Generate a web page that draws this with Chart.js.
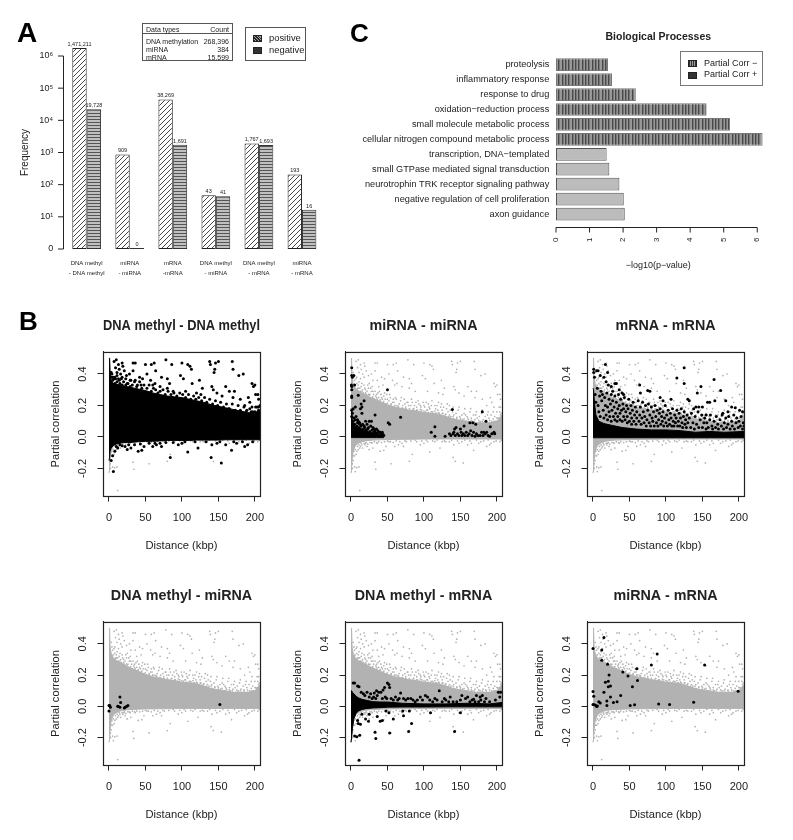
<!DOCTYPE html>
<html>
<head>
<meta charset="utf-8">
<title>Partial correlation figure</title>
<script src="https://cdn.jsdelivr.net/npm/chart.js@4"></script>
<style>
    html, body { margin: 0; padding: 0; background: #fff; overflow: hidden; }
    #page { position: relative; width: 793px; height: 840px; overflow: hidden; filter: blur(0.35px); font-family: "Liberation Sans", Arial, sans-serif; color: #222; }
    canvas { position: absolute; }
    .t { position: absolute; white-space: nowrap; line-height: 1; transform: translateY(-50%); }
    .letter { font-weight: bold; color: #000; }
    .box { position: absolute; box-sizing: border-box; }
    .swatch { position: absolute; }
</style>
</head>
<body>
<div id="page">
    <div class="t letter" style="left:17px;top:33px;font-size:28px">A</div>
    <div class="t letter" style="left:19px;top:321px;font-size:26px">B</div>
    <div class="t letter" style="left:350px;top:33px;font-size:26px">C</div>

    <canvas id="freqChart" width="315" height="270" style="left:15px;top:20px"></canvas>
    <canvas id="goChart" width="448" height="255" style="left:345px;top:25px"></canvas>

    <!-- data types table -->
    <div class="box" style="left:142px;top:23px;width:91px;height:38px;border:1px solid #555"></div>
    <div class="box" style="left:142px;top:33px;width:91px;height:1px;background:#555"></div>
    <div class="t" style="left:146px;top:29px;font-size:7px">Data types</div>
    <div class="t" style="right:564px;top:29px;font-size:7px">Count</div>
    <div class="t" style="left:146px;top:41px;font-size:7px">DNA methylation</div>
    <div class="t" style="right:564px;top:41px;font-size:7px">268,396</div>
    <div class="t" style="left:146px;top:49px;font-size:7px">miRNA</div>
    <div class="t" style="right:564px;top:49px;font-size:7px">384</div>
    <div class="t" style="left:146px;top:57px;font-size:7px">mRNA</div>
    <div class="t" style="right:564px;top:57px;font-size:7px">15,599</div>

    <!-- legend panel A -->
    <div class="box" style="left:245px;top:27px;width:61px;height:34px;border:1px solid #555"></div>
    <div class="swatch" style="left:253px;top:35px;width:7px;height:5px;border:.5px solid #222;background:repeating-linear-gradient(45deg,#222 0 1px,#aaa 1px 2px)"></div>
    <div class="swatch" style="left:253px;top:47px;width:7px;height:5px;border:.5px solid #222;background:#333"></div>
    <div class="t" style="left:269px;top:38px;font-size:9.4px">positive</div>
    <div class="t" style="left:269px;top:50px;font-size:9.4px">negative</div>

    <!-- legend panel C -->
    <div class="box" style="left:680px;top:51px;width:83px;height:35px;border:1.5px solid #777"></div>
    <div class="swatch" style="left:688px;top:60px;width:7px;height:5px;border:.5px solid #222;background:repeating-linear-gradient(90deg,#333 0 1px,#999 1px 2px)"></div>
    <div class="swatch" style="left:688px;top:72px;width:7px;height:5px;border:.5px solid #222;background:#333"></div>
    <div class="t" style="left:704px;top:63px;font-size:9px">Partial Corr &minus;</div>
    <div class="t" style="left:704px;top:74px;font-size:9px">Partial Corr +</div>
</div>

<script>
/**
 * Panel A: edge counts per data type pair (bar heights)
 */
const pairLabels = [
    ['DNA methyl', '- DNA methyl'], ['miRNA', '- miRNA'], ['mRNA', '-mRNA'],
    ['DNA methyl', '- miRNA'], ['DNA methyl', '- mRNA'], ['miRNA', '- mRNA']
];
const positiveHeights = [1780000, 870, 44500, 47, 1900, 208];
const negativeHeights = [22000, 1.07, 1740, 44, 1720, 16.5];
const positiveCounts = ['1,471,211', '909', '38,269', '43', '1,767', '193'];
const negativeCounts = ['19,728', '0', '1,691', '41', '1,693', '16'];
const freqTicks = [1, 10, 100, 1000, 10000, 100000, 1000000];
const freqTickLabels = ['0', '10¹', '10²', '10³', '10⁴', '10⁵', '10⁶'];

/**
 * Panel C: GO terms, top to bottom
 */
const goTerms = [
    'proteolysis', 'inflammatory response', 'response to drug', 'oxidation−reduction process',
    'small molecule metabolic process', 'cellular nitrogen compound metabolic process',
    'transcription, DNA−templated', 'small GTPase mediated signal transduction',
    'neurotrophin TRK receptor signaling pathway', 'negative regulation of cell proliferation', 'axon guidance'
];
const goValues = [1.55, 1.67, 2.38, 4.49, 5.19, 6.16, 1.51, 1.59, 1.89, 2.02, 2.05];
const goPositive = [true, true, true, true, true, true, false, false, false, false, false];
const goTicks = [0, 1, 2, 3, 4, 5, 6];

/**
 * Panel B: tick values, shared gray cloud (edges of the solid part + loose points)
 */
const distanceTicks = [0, 50, 100, 150, 200];
const corrTicks = [-0.2, 0, 0.2, 0.4];

const cloudX = [0, .8, 1.5, 3, 6, 10, 15, 20, 25, 30, 40, 50, 60, 70, 80, 90, 100, 110, 120, 130, 140, 150, 160, 170, 180, 190, 200, 207];
const cloudUpper = [.5, .5, .38, .34, .31, .295, .28, .27, .255, .245, .225, .205, .19, .18, .17, .165, .155, .15, .145, .13, .115, .105, .1, .09, .09, .09, .1, .14];
const cloudLower = [-.23, -.21, -.15, -.09, -.055, -.04, -.03, -.025, -.022, -.02, -.018, -.016, -.016, -.015, -.015, -.014, -.013, -.013, -.013, -.013, -.013, -.013, -.013, -.013, -.013, -.013, -.013, -.013];

const cloudTop = [
    [7,.48],[10,.49],[13,.46],[18,.47],[9,.44],[14,.43],[19,.45],[11,.41],[16,.40],[21,.42],[8,.38],[13,.37],[18,.38],[24,.39],[28,.40],
    [33,.47],[36,.47],[33,.42],[30,.36],[36,.36],[42,.38],[46,.37],[25,.34],[29,.32],[38,.32],[44,.33],[50,.46],[52,.40],[58,.46],[62,.47],
    [64,.42],[57,.36],[60,.33],[63,.34],[70,.32],[72,.38],[78,.49],[80,.37],[86,.46],[80,.31],[83,.34],[88,.29],[98,.39],[100,.47],[102,.37],
    [108,.46],[111,.45],[113,.43],[105,.29],[114,.34],[120,.28],[124,.36],[128,.31],[126,.27],[138,.48],[139,.46],[146,.47],[150,.48],[144,.41],
    [145,.43],[141,.32],[143,.30],[148,.28],[155,.26],[160,.32],[165,.29],[169,.48],[170,.43],[172,.29],[170,.25],[178,.39],[184,.40],[180,.24],
    [191,.25],[196,.34],[198,.32],[200,.33],[201,.27],[204,.27],[193,.22],[205,.24],[186,.20]
];
const cloudFringe = [
    [5,.36],[8,.34],[10,.33],[12,.31],[14,.32],[16,.30],[18,.33],[20,.30],[22,.29],[24,.31],[26,.27],[28,.29],[31,.27],[33,.29],[34,.26],[37,.28],
    [38,.25],[41,.27],[43,.24],[45,.26],[47,.24],[49,.27],[52,.23],[54,.25],[55,.21],[58,.24],[59,.22],[62,.24],[63,.20],[66,.21],[68,.23],[71,.20],
    [73,.24],[75,.19],[77,.22],[78,.22],[82,.20],[84,.22],[86,.18],[89,.22],[90,.19],[93,.21],[95,.20],[97,.17],[99,.22],[101,.19],[104,.17],[106,.21],
    [108,.18],[110,.20],[112,.16],[116,.18],[118,.20],[121,.15],[123,.19],[125,.17],[129,.14],[131,.18],[133,.16],[135,.20],[137,.13],[139,.16],[141,.14],
    [145,.12],[147,.17],[149,.13],[153,.11],[155,.15],[157,.14],[161,.11],[163,.16],[165,.12],[169,.10],[171,.14],[173,.12],[177,.10],[179,.15],[181,.11],
    [185,.10],[187,.14],[189,.12],[193,.10],[195,.16],[197,.13],[201,.12],[203,.19],[204,.16],[206,.15],
    [3,.41],[4,.38],[6,.33],[7,.37],[9,.31],[11,.35],[13,.29],[15,.34],[17,.28],[19,.31],[21,.27],[23,.33],[24,.27],[27,.31],[29,.25],[30,.29],[32,.24],[35,.27],
    [36,.24],[39,.29],[40,.23],[42,.25],[44,.22],[46,.28],[48,.21],[50,.24],[51,.2],[53,.27],[56,.19],[57,.22],[60,.2],[61,.25],[65,.19],[67,.18],[69,.25],[72,.18],
    [74,.21],[76,.17],[79,.2],[81,.17],[83,.24],[85,.16],[87,.2],[91,.17],[92,.23],[94,.16],[96,.19],[98,.15],[100,.2],[102,.16],[103,.22],[105,.15],[107,.19],[109,.15],
    [111,.23],[113,.15],[115,.2],[117,.15],[119,.17],[120,.22],[122,.14],[124,.21],[126,.15],[127,.19],[130,.13],[132,.21],[134,.13],[136,.17],[138,.11],[140,.19],
    [142,.11],[144,.15],[146,.1],[148,.19],[150,.11],[152,.14],[154,.09],[156,.18],[158,.1],[159,.13],[162,.09],[164,.18],[166,.1],[168,.14],[170,.09],[172,.16],
    [174,.09],[176,.13],[178,.09],[180,.17],[182,.09],[184,.13],[186,.09],[188,.16],[190,.09],[192,.14],[194,.09],[196,.19],[198,.1],[200,.16],[202,.1],[205,.19],[207,.13]
];
// points hugging the top of the solid part, they break up its outline
const cloudEdge = [
    [8,.3],[12,.285],[17,.27],[22,.26],[27,.25],[32,.24],[37,.225],[43,.215],[47,.205],[53,.195],[57,.185],[63,.18],[67,.175],[72,.17],[76,.175],[82,.16],[87,.165],
    [92,.155],[96,.16],[102,.15],[106,.155],[112,.145],[116,.15],[121,.135],[126,.135],[131,.125],[136,.12],[141,.115],[146,.105],[151,.1],[156,.095],[161,.095],
    [166,.09],[171,.085],[176,.09],[181,.085],[186,.09],[191,.085],[196,.1],[199,.1],[203,.12],[205,.14],[10,.31],[15,.29],[20,.28],[25,.265],[30,.255],[35,.25],
    [40,.235],[45,.225],[50,.215],[55,.205],[60,.2],[65,.195],[70,.185],[75,.18],[80,.18],[85,.175],[90,.17],[95,.175],[100,.165],[105,.17],[110,.16],[115,.165],
    [120,.155],[125,.15],[130,.145],[135,.14],[140,.13],[145,.125],[150,.12],[155,.115],[160,.12],[165,.105],[170,.11],[175,.105],[180,.1],[185,.105],[190,.105],[195,.115],[200,.12]
];
const cloudBottom = [
    [3,-.15],[5,-.12],[8,-.09],[12,-.07],[2,-.2],[6,-.22],[12,-.34],[11,-.19],[5,-.19],[8,-.195],[33,-.16],[34,-.205],[30,-.07],[22,-.06],[25,-.08],[15,-.05],
    [40,-.09],[45,-.085],[48,-.06],[55,-.17],[60,-.06],[65,-.05],[72,-.06],[80,-.155],[84,-.11],[70,-.04],[95,-.05],[108,-.095],[100,-.04],[115,-.03],
    [122,-.07],[130,-.03],[140,-.13],[143,-.155],[141,-.05],[148,-.04],[154,-.165],[160,-.05],[165,-.04],[168,-.085],[175,-.04],[186,-.06],[190,-.05],
    [192,-.04],[204,-.03],[20,-.04],[28,-.035],[36,-.04],[52,-.03],[58,-.035],[76,-.03],[90,-.03],[105,-.03],[125,-.03],[135,-.03],[152,-.03],[178,-.03],[196,-.03],
    [2,-.17],[3,-.12],[4,-.09],[6,-.08],[7,-.11],[9,-.06],[10,-.08],[11,-.05],[13,-.06],[14,-.04],[16,-.07],[18,-.04],[19,-.05],[21,-.035],[23,-.045],[26,-.035],
    [29,-.04],[32,-.03],[35,-.035],[38,-.03],[42,-.035],[46,-.03],[50,-.025],[54,-.03],[62,-.025],[67,-.03],[74,-.025],[82,-.025],[88,-.02],[97,-.025],[103,-.02],
    [112,-.025],[118,-.02],[128,-.025],[138,-.02],[146,-.025],[156,-.02],[163,-.025],[172,-.02],[182,-.025],[188,-.02],[199,-.025],[206,-.02]
];

// DNA methyl - DNA methyl: nearly the whole cloud is black
const methylUpper = [.5, .5, .42, .36, .34, .335, .33, .325, .32, .315, .305, .295, .28, .27, .26, .255, .25, .24, .23, .22, .205, .195, .185, .175, .165, .155, .15, .17];
const methylLower = [-.15, -.13, -.09, -.07, -.055, -.045, -.04, -.035, -.035, -.035, -.03, -.028, -.028, -.025, -.022, -.022, -.022, -.022, -.02, -.02, -.02, -.02, -.018, -.018, -.018, -.018, -.018, -.018];
const methylEdge = [
    [4,.4],[6,.38],[9,.37],[11,.39],[14,.36],[17,.37],[20,.35],[23,.37],[26,.34],[29,.36],[32,.33],[35,.35],[39,.33],[42,.35],[45,.31],[48,.33],[52,.31],[55,.33],
    [58,.29],[61,.31],[64,.3],[67,.28],[70,.29],[74,.3],[77,.27],[81,.29],[85,.27],[89,.28],[93,.26],[97,.28],[101,.27],[105,.25],[109,.27],[112,.24],[116,.26],
    [119,.24],[123,.25],[127,.23],[131,.25],[134,.22],[138,.24],[142,.21],[146,.23],[149,.2],[153,.22],[157,.19],[161,.21],[165,.18],[169,.21],[173,.17],[177,.2],
    [181,.16],[185,.19],[189,.17],[193,.18],[197,.16],[201,.19],[205,.17],[207,.2]
];
const methylBottom = [
    [3,-.15],[5,-.12],[8,-.09],[12,-.07],[6,-.22],[30,-.07],[22,-.06],[25,-.08],[15,-.05],[40,-.09],[45,-.085],[48,-.06],[60,-.06],[65,-.05],[72,-.06],
    [84,-.13],[70,-.04],[95,-.05],[108,-.095],[100,-.04],[122,-.07],[140,-.13],[141,-.05],[154,-.165],[148,-.04],[160,-.05],[168,-.085],[175,-.04],[186,-.06],[190,-.05],
    [10,-.06],[18,-.055],[27,-.05],[35,-.05],[43,-.045],[55,-.04],[63,-.04],[78,-.035],[88,-.035],[104,-.03],[118,-.03],[133,-.03],[152,-.03],[171,-.03],[183,-.03],[197,-.03]
];

// miRNA - miRNA
const mirnaBandX = [0, .8, 2, 5, 10, 15, 20, 25, 30, 35, 40, 45];
const mirnaBandUpper = [.18, .17, .1, .07, .055, .045, .04, .03, .025, .02, .015, .01];
const mirnaBandLower = [-.004, -.004, -.004, -.004, -.004, -.004, -.004, -.004, -.004, -.004, -.004, -.004];
const mirnaPoints = [
    [1,.44],[1,.39],[2,.38],[4,.39],[.5,.33],[1,.32],[5,.33],[1,.3],[1,.26],[1,.25],[10,.265],[14,.21],[18,.23],[15,.19],[13,.18],[6,.19],[3,.18],[1,.17],
    [2,.15],[1,.13],[4,.12],[15,.15],[33,.14],[25,.1],[28,.1],[20,.1],[10,.1],[50,.3],[51,.09],[53,.08],[68,.125],[35,.05],[110,.03],[115,.065],[115,.005],
    [129,.005],[139,.175],[142,.05],[144,.06],[150,.05],[155,.07],[163,.09],[167,.09],[171,.08],[180,.16],[185,.1],[191,.065],[196,.03],[197,.02],
    [7,.13],[9,.11],[12,.09],[16,.08],[18,.07],[22,.08],[24,.06],[27,.07],[30,.06],[32,.05],[37,.04],[40,.03],[43,.03],[45,.01],[36,.02],
    [3,.1],[5,.08],[6,.11],[8,.07],[9,.09],[11,.06],[12,.08],[13,.05],[14,.07],[17,.05],[19,.06],[21,.045],[23,.05],[26,.035],[29,.045],[31,.03],[33,.04],[34,.025],
    [38,.03],[41,.015],[42,.02],[44,.015],
    [135,.02],[137,.01],[140,.02],[141,.03],[143,.01],[146,.02],[148,.01],[151,.03],[152,.01],[154,.02],[156,.01],[158,.03],[160,.01],[162,.02],[164,.04],
    [166,.01],[168,.03],[170,.005],[172,.02],[174,.01],[177,.01],[179,.03],[181,.01],[182,.03],[184,.02],[186,.03],[188,.01],[190,.005],[193,.02]
];

// mRNA - mRNA
const mrnaBandX = [0, .8, 2, 4, 8, 15, 25, 40, 60, 80, 100, 120, 140, 160, 180, 207];
const mrnaBandUpper = [.31, .3, .22, .14, .1, .085, .075, .06, .05, .045, .045, .04, .03, .035, .03, .035];
const mrnaBandLower = [-.005, -.005, -.005, -.005, -.005, -.005, -.005, -.005, -.005, -.005, -.005, -.005, -.005, -.005, -.005, -.005];
const mrnaPoints = [
    [1,.43],[1,.41],[2,.38],[5,.42],[7,.42],[10,.39],[17,.46],[20,.41],[15,.38],[18,.35],[21,.33],[25,.32],[30,.34],[32,.34],[27,.29],[36,.3],[40,.28],[42,.27],
    [64,.33],[65,.28],[75,.295],[78,.29],[92,.25],[96,.23],[107,.24],[115,.375],[125,.44],[125,.34],[130,.24],[132,.23],[138,.18],[143,.28],[148,.32],[141,.19],
    [145,.19],[150,.19],[155,.14],[157,.22],[160,.22],[166,.365],[167,.23],[175,.295],[182,.23],[178,.15],[185,.16],[190,.19],[195,.185],[201,.17],[205,.16],
    [3,.27],[6,.31],[4,.22],[9,.26],[7,.2],[11,.29],[8,.16],[12,.23],[10,.13],[13,.27],[14,.17],[15,.12],[16,.25],[17,.2],[18,.14],[19,.28],[20,.19],[20,.11],
    [22,.24],[22,.16],[23,.13],[24,.21],[25,.27],[25,.1],[26,.17],[27,.23],[28,.13],[29,.19],[30,.26],[30,.11],[31,.15],[32,.22],[33,.1],[34,.18],[34,.13],[35,.27],
    [36,.2],[37,.11],[37,.15],[38,.24],[39,.17],[40,.1],[41,.21],[42,.13],[42,.18],[43,.25],[44,.11],[45,.16],[46,.2],[47,.09],[47,.13],[48,.18],[49,.24],[50,.1],
    [51,.15],[52,.2],[53,.08],[53,.12],[54,.17],[55,.22],[56,.1],[57,.14],[58,.19],[59,.08],[60,.12],[60,.16],
    [62,.23],[63,.1],[64,.14],[65,.19],[66,.08],[67,.12],[68,.22],[69,.16],[70,.09],[71,.13],[72,.2],[73,.07],[74,.11],[75,.17],[76,.21],[77,.09],[78,.14],[79,.07],
    [80,.19],[81,.12],[82,.1],[83,.16],[84,.07],[85,.2],[86,.13],[87,.09],[88,.17],[89,.07],[90,.11],[91,.15],[92,.18],[93,.08],[94,.13],[95,.1],[96,.16],[97,.07],
    [98,.12],[99,.2],[100,.09],[101,.14],[102,.07],[103,.17],[104,.11],[105,.08],[106,.15],[107,.12],[108,.07],[109,.18],[110,.1],[111,.07],[112,.14],[113,.09],
    [114,.12],[115,.17],[116,.07],[117,.1],[118,.15],[119,.07],[120,.12],[121,.18],[122,.09],[123,.06],[124,.13],[125,.16],[126,.08],[127,.11],[128,.06],[129,.14],[130,.09],
    [132,.12],[134,.06],[135,.15],[137,.09],[139,.05],[140,.13],[142,.08],[144,.16],[145,.06],[147,.11],[149,.14],[150,.06],[152,.09],[153,.12],[155,.05],[156,.09],
    [158,.06],[160,.11],[161,.14],[163,.07],[164,.05],[166,.1],[168,.06],[169,.13],[171,.08],[172,.05],[174,.11],[176,.07],[177,.14],[179,.05],[180,.09],[182,.12],
    [183,.06],[185,.08],[186,.13],[188,.05],[190,.1],[191,.07],[193,.14],[194,.05],[196,.09],[197,.12],[199,.06],[200,.1],[202,.07],[203,.13],[205,.05],[206,.09],[207,.07]
];

// DNA methyl - miRNA
const methylMirnaPoints = [[0,.005],[1,.005],[2,-.005],[0,-.03],[13,0],[15,.06],[16,.025],[15,-.005],[12,.001],[21,-.01],[22,-.005],[24,0],[26,.005],[152,.012]];

// DNA methyl - mRNA
const methylMrnaBandX = [0, .8, 2, 4, 7, 10, 15, 20, 30, 40, 50, 70, 100, 130, 160, 190, 207];
const methylMrnaBandUpper = [.1, .1, .09, .08, .065, .055, .045, .04, .03, .028, .028, .02, .016, .016, .02, .016, .025];
const methylMrnaBandLower = [-.23, -.2, -.14, -.08, -.045, -.03, -.02, -.015, -.01, -.008, -.005, -.004, -.004, -.003, -.003, -.003, -.003];
const methylMrnaPoints = [
    [11,-.345],[33,-.165],[34,-.205],[53,-.17],[79,-.16],[83,-.11],[142,-.16],[150,-.04],[109,-.04],[58,-.08],[72,-.06],[71,-.03],[40,-.095],[36,-.065],[43,-.09],
    [25,-.05],[24,-.095],[20,-.08],[12,-.185],[5,-.19],[8,-.195],[10,-.11],[13,-.115],[9,-.09],[15,-.05],[80,-.03],[52,-.04],[48,-.03],
    [3,.15],[5,.15],[9,.13],[11,.125],[50,.15],[52,.14],[53,.12],[46,.12],[44,.105],[41,.09],[35,.1],[38,.09],[32,.085],[36,.07],[121,.1],[102,.07],[105,.06],[68,.085],
    [82,.05],[95,.06],[115,.05],[130,.04],[136,.06],[152,.07],[157,.05],[160,.06],[172,.07],[177,.06],[180,.07],[185,.05],[205,.09],[202,.09],[204,.06],[168,.045],[178,.04],[163,.03],
    [14,.09],[17,.08],[19,.07],[22,.09],[25,.06],[27,.08],[29,.05],[31,.06],[34,.05],[43,.05],[47,.06],[49,.05],[55,.05],[58,.04],[61,.06],[64,.04],[66,.05],[72,.05],[75,.04],
    [78,.05],[85,.04],[88,.03],[91,.04],[98,.04],[108,.04],[112,.03],[118,.04],[125,.03],[128,.05],[134,.03],[140,.03],[145,.03],[150,.04],[166,.04],[170,.03],[175,.03],[183,.03],[190,.03],[198,.04]
];

// miRNA - mRNA
const mirnaMrnaPoints = [
    [0,.37],[15,.44],[12,.36],[12,.295],[20,.27],[41,.22],[48,.195],[60,.24],[61,.165],[54,.125],[38,.07],[33,.03],[28,.025],[24,.06],[24,.13],[22,.2],[21,.16],[17,.155],
    [15,.09],[21,.125],[19,.035],[19,.005],[51,.005],[57,.01],[80,.265],[88,.335],[90,.015],[105,.012],[138,.027],[153,.265],[199,.097],[0,.095],[1,.065],[0,.012],[2,.01],
    [4,.005],[5,0],[8,.03],[10,.022],[6,.003]
];

const INK = '#222';
const TEXT_FONT = '"Liberation Sans", Arial, sans-serif';
const GRAY = '#b2b2b2';

document.addEventListener('DOMContentLoaded', function() {
    Chart.defaults.font.family = TEXT_FONT;
    Chart.defaults.color = INK;
    Chart.defaults.animation = false;
    Chart.defaults.events = [];

    initFrequencyChart();
    initProcessChart();

    initScatter('DNA methyl - DNA methyl', 103, 352, 144, [
        band(cloudX, methylUpper, methylLower, '#000'),
        blackPoints(cloudTop.concat(cloudFringe, methylEdge, methylBottom))
    ]);
    initScatter('miRNA - miRNA', 345, 352, 144, [band(mirnaBandX, mirnaBandUpper, mirnaBandLower, '#000'), blackPoints(mirnaPoints)]);
    initScatter('mRNA - mRNA', 587, 352, 144, [band(mrnaBandX, mrnaBandUpper, mrnaBandLower, '#000'), blackPoints(mrnaPoints)]);
    initScatter('DNA methyl - miRNA', 103, 622, 143, [[], blackPoints(methylMirnaPoints)]);
    initScatter('DNA methyl - mRNA', 345, 622, 143, [band(methylMrnaBandX, methylMrnaBandUpper, methylMrnaBandLower, '#000'), blackPoints(methylMrnaPoints)]);
    initScatter('miRNA - mRNA', 587, 622, 143, [[], blackPoints(mirnaMrnaPoints)]);
});

/**
 * Hatch fills
 */
function makePattern(width, height, draw) {
    const tile = document.createElement('canvas');
    tile.width = width;
    tile.height = height;
    draw(tile.getContext('2d'));
    return tile.getContext('2d').createPattern(tile, 'repeat');
}

function diagonalHatch() {
    return makePattern(5, 5, ctx => {
        ctx.fillStyle = '#fff';
        ctx.fillRect(0, 0, 5, 5);
        ctx.strokeStyle = '#333';
        ctx.lineWidth = 0.9;
        [[-1, 1, 1, -1], [0, 5, 5, 0], [4, 6, 6, 4]].forEach(l => {
            ctx.beginPath();
            ctx.moveTo(l[0], l[1]);
            ctx.lineTo(l[2], l[3]);
            ctx.stroke();
        });
    });
}

function horizontalHatch() {
    return makePattern(4, 3, ctx => {
        ctx.fillStyle = '#c0c0c0';
        ctx.fillRect(0, 0, 4, 3);
        ctx.fillStyle = '#555';
        ctx.fillRect(0, 0, 4, 1);
    });
}

function verticalHatch() {
    return makePattern(10, 4, ctx => {
        ctx.fillStyle = '#989898';
        ctx.fillRect(0, 0, 10, 4);
        ctx.fillStyle = '#484848';
        [0, 3, 7].forEach(x => ctx.fillRect(x, 0, 1.4, 4));
    });
}

/**
 * R style axis line: only between the first and last tick, pushed away from the plot
 */
function offsetAxis(axisId, offset, length) {
    return {
        id: 'offsetAxis',
        afterDraw(chart) {
            const scale = chart.scales[axisId];
            const ctx = chart.ctx;
            const pixels = scale.ticks.map(t => scale.getPixelForValue(t.value));
            ctx.save();
            ctx.strokeStyle = INK;
            ctx.lineWidth = 1;
            ctx.beginPath();
            if (scale.isHorizontal()) {
                const y = Math.round(chart.chartArea.bottom + offset) + 0.5;
                ctx.moveTo(pixels[0], y);
                ctx.lineTo(pixels[pixels.length - 1], y);
                pixels.forEach(p => { ctx.moveTo(p, y); ctx.lineTo(p, y + length); });
            } else {
                const x = Math.round(chart.chartArea.left - offset) + 0.5;
                ctx.moveTo(x, pixels[0]);
                ctx.lineTo(x, pixels[pixels.length - 1]);
                pixels.forEach(p => { ctx.moveTo(x, p); ctx.lineTo(x - length, p); });
            }
            ctx.stroke();
            ctx.restore();
        }
    };
}

const countLabels = {
    id: 'countLabels',
    afterDatasetsDraw(chart) {
        const ctx = chart.ctx;
        ctx.save();
        ctx.font = '5.5px ' + TEXT_FONT;
        ctx.fillStyle = INK;
        ctx.textAlign = 'center';
        ctx.textBaseline = 'bottom';
        [positiveCounts, negativeCounts].forEach((counts, d) => {
            chart.getDatasetMeta(d).data.forEach((bar, i) => ctx.fillText(counts[i], bar.x, bar.y - 1));
        });
        ctx.restore();
    }
};

// Plot box and the rotated tick labels Chart.js can't do on a y axis
const plotFrame = {
    id: 'plotFrame',
    afterDraw(chart) {
        const ctx = chart.ctx;
        const area = chart.chartArea;
        const y = chart.scales.y;
        ctx.save();
        ctx.strokeStyle = INK;
        ctx.lineWidth = 1.2;
        ctx.strokeRect(area.left + 0.5, area.top + 0.5, area.right - area.left, area.bottom - area.top);
        ctx.font = '11px ' + TEXT_FONT;
        ctx.fillStyle = INK;
        ctx.textAlign = 'center';
        ctx.textBaseline = 'middle';
        y.ticks.forEach(t => {
            ctx.save();
            ctx.translate(area.left - 20, y.getPixelForValue(t.value));
            ctx.rotate(-Math.PI / 2);
            ctx.fillText(t.value.toFixed(1), 0, 0);
            ctx.restore();
        });
        ctx.restore();
    }
};

/**
 * Panel A
 */
function initFrequencyChart() {
    new Chart(document.getElementById('freqChart'), {
        type: 'bar',
        data: {
            labels: pairLabels,
            datasets: [
                { label: 'positive', data: positiveHeights, backgroundColor: diagonalHatch(), borderColor: INK, borderWidth: 1, borderSkipped: false, clip: false },
                { label: 'negative', data: negativeHeights, backgroundColor: horizontalHatch(), borderColor: '#333', borderWidth: 1, borderSkipped: false, clip: false }
            ]
        },
        options: {
            responsive: false,
            layout: { padding: { top: 36, right: 6.5 } },
            datasets: { bar: { barPercentage: 1, categoryPercentage: 0.668 } },
            plugins: { legend: { display: false }, tooltip: { enabled: false } },
            scales: {
                x: {
                    grid: { display: false, drawTicks: false },
                    border: { display: false },
                    ticks: { font: { size: 6, lineHeight: 1.65 }, padding: 9, maxRotation: 0, autoSkip: false },
                    afterFit: s => { s.height = 41; }
                },
                y: {
                    type: 'logarithmic',
                    min: 1,
                    max: 1000000,
                    grid: { display: false, drawTicks: false },
                    border: { display: false },
                    afterBuildTicks: s => { s.ticks = freqTicks.map(v => ({ value: v })); },
                    ticks: { font: { size: 9 }, padding: 12, autoSkip: false, callback: (v, i) => freqTickLabels[i] },
                    title: { display: true, text: 'Frequency', font: { size: 10 }, padding: { top: 4, bottom: 0 } },
                    afterFit: s => { s.width = 50.15; }
                }
            }
        },
        plugins: [offsetAxis('y', 2.5, 5.5), countLabels]
    });
}

/**
 * Panel C
 */
function initProcessChart() {
    const stripes = verticalHatch();
    new Chart(document.getElementById('goChart'), {
        type: 'bar',
        data: {
            labels: goTerms,
            datasets: [{
                data: goValues,
                backgroundColor: goPositive.map(p => p ? stripes : '#bcbcbc'),
                borderColor: goPositive.map(p => p ? '#777' : '#555'),
                borderWidth: 1,
                borderSkipped: false,
                clip: false
            }]
        },
        options: {
            indexAxis: 'y',
            responsive: false,
            layout: { padding: { right: 32.4 } },
            datasets: { bar: { barPercentage: 0.85, categoryPercentage: 1 } },
            plugins: {
                legend: { display: false },
                tooltip: { enabled: false },
                title: {
                    display: true,
                    text: 'Biological Processes',
                    fullSize: false,
                    color: INK,
                    font: { size: 10.5, weight: 'bold', lineHeight: 1.2 },
                    padding: { top: 5.4, bottom: 14.2 }
                }
            },
            scales: {
                x: {
                    min: 0,
                    max: 6.1,
                    grid: { display: false, drawTicks: false },
                    border: { display: false },
                    afterBuildTicks: s => { s.ticks = goTicks.map(v => ({ value: v })); },
                    ticks: { font: { size: 8 }, padding: 16, minRotation: 90, maxRotation: 90, autoSkip: false, callback: v => v },
                    title: { display: true, text: '−log10(p−value)', font: { size: 9, lineHeight: 1.2 }, padding: { top: 0, bottom: 8.6 } },
                    afterFit: s => { s.height = 58.5; }
                },
                y: {
                    grid: { display: false, drawTicks: false },
                    border: { display: false },
                    ticks: { font: { size: 9.2 }, padding: 6.7, autoSkip: false },
                    afterFit: s => { s.width = 211; }
                }
            }
        },
        plugins: [offsetAxis('x', 5, 5)]
    });
}

/**
 * Panel B
 */
function band(xs, upper, lower, color) {
    const edge = (ys, fill) => ({
        type: 'scatter',
        showLine: true,
        data: xs.map((x, i) => [x, ys[i]]),
        pointRadius: 0,
        borderWidth: 1,
        borderColor: color,
        backgroundColor: color,
        tension: 0,
        fill: fill
    });
    return [edge(upper, '+1'), edge(lower, false)];
}

function blackPoints(points) {
    return [{ type: 'scatter', data: points, pointRadius: 1.5, pointBorderWidth: 0, pointBackgroundColor: '#000', showLine: false }];
}

function initScatter(title, left, top, height, black) {
    const canvas = document.createElement('canvas');
    canvas.width = 235;
    canvas.height = height + 96;
    canvas.style.left = (left - 58) + 'px';
    canvas.style.top = (top - 36) + 'px';
    document.getElementById('page').appendChild(canvas);

    const cloudPoints = [{
        type: 'scatter',
        data: cloudTop.concat(cloudFringe, cloudEdge, cloudBottom),
        pointRadius: 0.85,
        pointBorderWidth: 0,
        pointBackgroundColor: GRAY,
        showLine: false
    }];
    // first dataset is drawn last, so black goes before the gray cloud
    const datasets = black[1].concat(black[0], cloudPoints, band(cloudX, cloudUpper, cloudLower, GRAY));

    new Chart(canvas, {
        type: 'scatter',
        data: { datasets: datasets },
        options: {
            responsive: false,
            layout: { padding: { left: 4, right: 20 } },
            plugins: {
                legend: { display: false },
                tooltip: { enabled: false },
                title: {
                    display: true,
                    text: title,
                    fullSize: false,
                    color: INK,
                    font: { size: 14.3, weight: 'bold', lineHeight: 1.2 },
                    padding: { top: 1.1, bottom: 17.7 }
                }
            },
            scales: {
                x: {
                    min: -8.2,
                    max: 207,
                    grid: { drawOnChartArea: false, color: INK, tickLength: 5.5 },
                    border: { color: INK },
                    afterBuildTicks: s => { s.ticks = distanceTicks.map(v => ({ value: v })); },
                    ticks: { font: { size: 11 }, padding: 10, maxRotation: 0, autoSkip: false, callback: v => v },
                    title: { display: true, text: 'Distance (kbp)', font: { size: 11.2, lineHeight: 1.2 }, padding: { top: 0, bottom: 3.5 } },
                    afterFit: s => { s.height = 60; }
                },
                y: {
                    min: -0.375,
                    max: 0.54,
                    grid: { drawOnChartArea: false, color: INK, tickLength: 5.5 },
                    border: { color: INK },
                    afterBuildTicks: s => { s.ticks = corrTicks.map(v => ({ value: v })); },
                    ticks: { display: false },
                    title: { display: true, text: 'Partial correlation', font: { size: 11.2, lineHeight: 1.2 }, padding: { top: 0, bottom: 0 } },
                    afterFit: s => { s.width = 54; }
                }
            }
        },
        plugins: [plotFrame]
    });
}
</script>
</body>
</html>
